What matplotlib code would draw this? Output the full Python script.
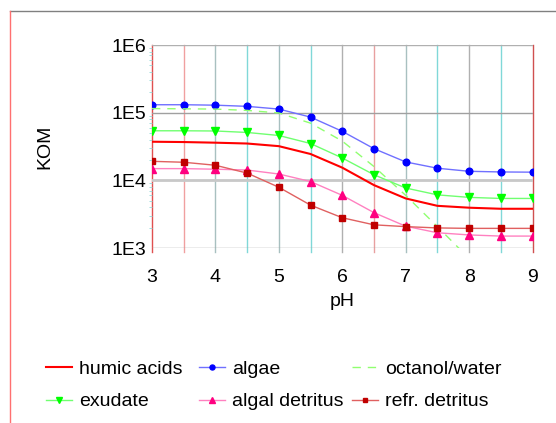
import matplotlib
matplotlib.use("Agg")
import matplotlib.pyplot as plt
from matplotlib.lines import Line2D

plt.rcParams['font.family'] = ['Liberation Sans', 'DejaVu Sans']

ph = [3, 3.5, 4, 4.5, 5, 5.5, 6, 6.5, 7, 7.5, 8, 8.5, 9]
humic_acids = [37200, 36800, 36000, 35000, 32000, 24500, 15400, 8500, 5400, 4200, 3940, 3800, 3800]
algae = [131000, 131000, 129000, 124000, 113000, 86000, 53000, 29400, 18700, 15100, 13600, 13300, 13200]
octanol_water = [115000, 114000, 113000, 108000, 99000, 70000, 38000, 16000, 6000, 2070, 700, 220, 70]
exudate = [54000, 54000, 53600, 51000, 46000, 35000, 21400, 12100, 7700, 6100, 5600, 5400, 5400]
algal_detritus = [14900, 14900, 14600, 14200, 12400, 9600, 6000, 3330, 2100, 1680, 1560, 1500, 1500]
refr_detritus = [19100, 18500, 16700, 12800, 7900, 4300, 2800, 2200, 2070, 1980, 1950, 1950, 1950]

y_ticks = [1e3, 1e4, 1e5, 1e6]
y_labels = ["1E3", "1E4", "1E5", "1E6"]
x_ticks = [3, 4, 5, 6, 7, 8, 9]

W, H = 556, 423
fig = plt.figure(figsize=(W / 100, H / 100), dpi=100)
ax = fig.add_axes([152 / W, 1 - 248 / H, (532.5 - 152) / W, (248 - 45) / H])
ax.set_yscale('log')
ax.set_xlim(3, 9)
ax.set_ylim(1e3, 1e6)

# grid lines
vcolors = ['#e05050', '#f0a0a0', '#a8c0c0', '#80d8d8', '#a8c0c0', '#80d8d8', '#b0b0b0',
           '#e8a0a0', '#a8c0c0', '#80d8d8', '#b0b0b0', '#80d8d8', '#d05050']
for xv, c in zip(ph, vcolors):
    ax.plot([xv, xv], [10 ** (-0.06 + 3), 1e6], color=c, lw=1, clip_on=False, zorder=1)
for yv, c, lw in zip(y_ticks, ['#a0a0a0', '#c8c8c8', '#a0a0a0', '#b0b0b0'], [1, 2, 1, 1]):
    ax.axhline(yv, color=c, lw=lw, zorder=1)
for s in ax.spines.values():
    s.set_visible(False)

fs = 14
ax.plot(ph, humic_acids, color='#ff0000', lw=1.5, zorder=3, label='humic acids')
ax.plot(ph, algae, color='#7070ff', lw=1, marker='o', ms=4.8, mfc='#0000ff', mec='#0000ff',
        zorder=3, label='algae')
ax.plot(ph, octanol_water, color='#90ff70', lw=1, ls=(0, (6, 5)), zorder=3, label='octanol/water')
ax.plot(ph, exudate, color='#70ff70', lw=1, marker='v', ms=5.5, mfc='#00ff00', mec='#00ff00',
        zorder=3, label='exudate')
ax.plot(ph, algal_detritus, color='#ff80c0', lw=1, marker='^', ms=5.5, mfc='#ff0080', mec='#ff0080',
        zorder=3, label='algal detritus')
ax.plot(ph, refr_detritus, color='#e06060', lw=1, marker='s', ms=4.8, mfc='#c00000', mec='#c00000',
        zorder=3, label='refr. detritus')

ax.set_xticks(x_ticks)
ax.set_xticklabels([str(v) for v in x_ticks], fontsize=fs)
ax.set_yticks(y_ticks)
ax.set_yticklabels(y_labels, fontsize=fs)
ax.tick_params(axis='x', length=0, pad=15)
ax.tick_params(axis='y', which='major', length=0, pad=4)
ax.tick_params(axis='y', which='minor', length=2, color='#90d8d8', left=True)
ax.set_xlabel('pH', fontsize=fs, labelpad=5)
ax.set_ylabel('KOM', fontsize=fs, labelpad=42)

# frame lines of the figure
fig.add_artist(Line2D([10 / W, 1], [1 - 11 / H, 1 - 11 / H], color='#808080', lw=1))
fig.add_artist(Line2D([10 / W, 10 / W], [0, 1 - 11 / H], color='#ff7070', lw=1))

handles, labels = ax.get_legend_handles_labels()
order = [[0, 3], [1, 4], [2, 5]]
xs = [46, 199, 352]
for cols, x0 in zip(order, xs):
    fig.legend([handles[i] for i in cols], [labels[i] for i in cols],
               loc='upper left', bbox_to_anchor=(x0 / W, 1 - 360 / H),
               frameon=False, fontsize=fs, handlelength=1.35, handletextpad=0.35,
               labelspacing=0.78, borderpad=0, borderaxespad=0, markerscale=0.75)

fig.savefig('out.png', dpi=100)
